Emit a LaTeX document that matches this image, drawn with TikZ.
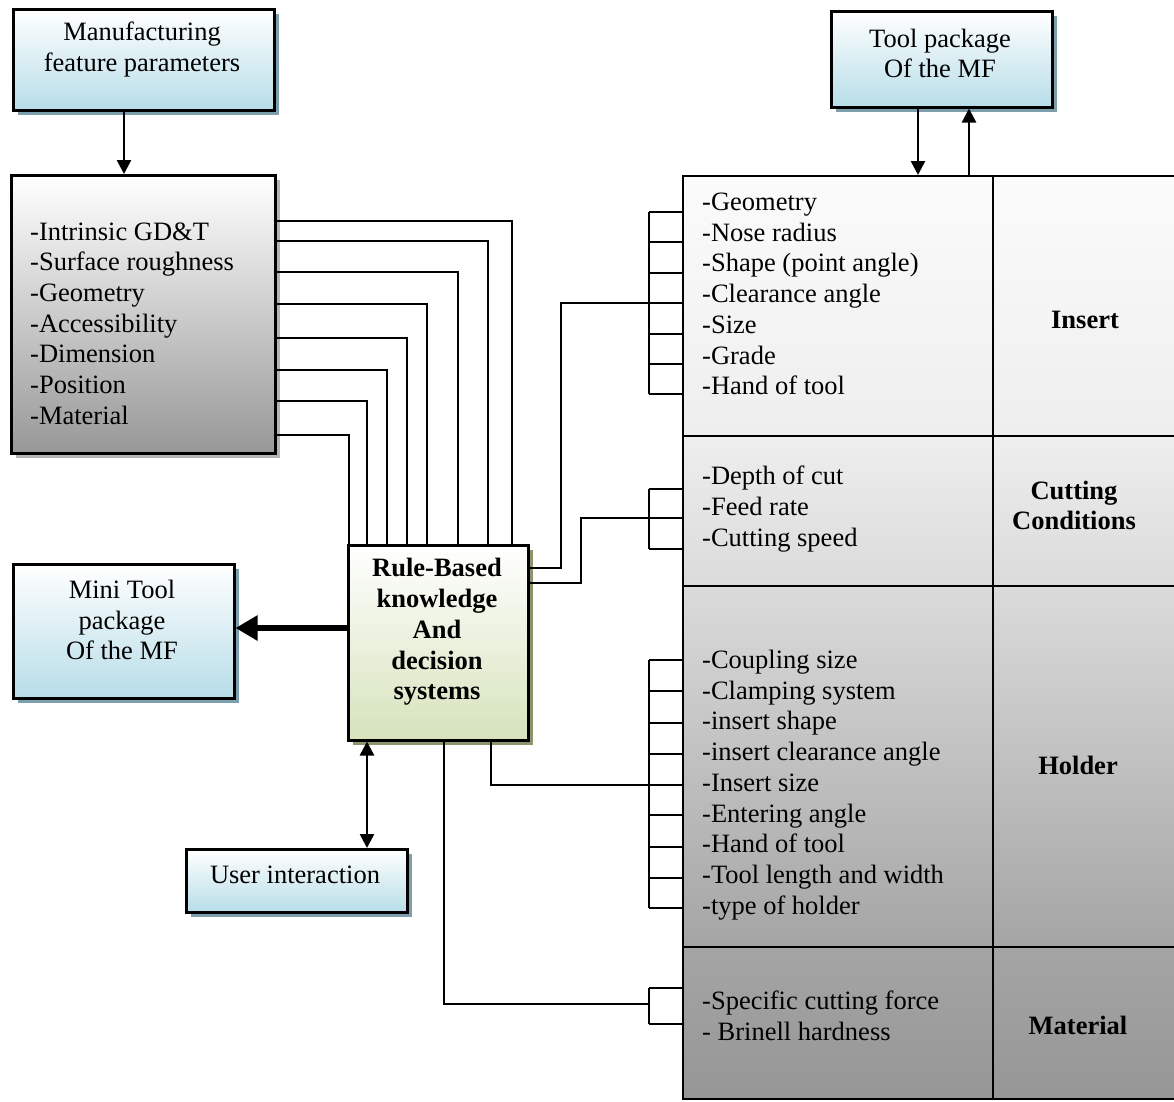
\documentclass[tikz,border=0pt]{standalone}
\usepackage{fontspec}
\setmainfont{Liberation Serif}
\usetikzlibrary{arrows.meta,shadows}

\definecolor{boxblue}{RGB}{183,221,232}
\definecolor{blueshade}{RGB}{125,158,172}
\definecolor{boxgreen}{RGB}{214,227,188}
\definecolor{greenshade}{RGB}{140,150,110}
\definecolor{boxgrey}{RGB}{152,152,152}
\definecolor{greyshade}{RGB}{180,180,180}
\definecolor{tgA}{RGB}{150,150,150}
\definecolor{tgB}{RGB}{165,165,165}
\definecolor{tgC}{RGB}{219,219,219}
\definecolor{tgD}{RGB}{238,238,238}
\definecolor{tgE}{RGB}{251,251,251}
\pgfdeclareverticalshading{tablegrad}{100bp}{color(0bp)=(tgA); color(25bp)=(tgA); color(33.25bp)=(tgB); color(52.85bp)=(tgC); color(60.9bp)=(tgD); color(75bp)=(tgE); color(100bp)=(tgE)}

\begin{document}
\begin{tikzpicture}[x=1pt,y=-1pt,
  box/.style={draw,line width=2.5pt,inner sep=0pt,anchor=north west},
  bluebox/.style={box,top color=white,bottom color=boxblue,
    drop shadow={shadow xshift=5pt,shadow yshift=-5pt,fill=blueshade,opacity=1}},
  greybox/.style={box,top color=white,bottom color=boxgrey,
    drop shadow={shadow xshift=5pt,shadow yshift=-5pt,fill=greyshade,opacity=1}},
  greenbox/.style={box,top color=white,bottom color=boxgreen,
    drop shadow={shadow xshift=5pt,shadow yshift=-5pt,fill=greenshade,opacity=1}},
  cell/.style={draw,line width=2pt,inner sep=0pt,anchor=north west},
  txt/.style={inner sep=0pt,align=center,font=\fontsize{26.5pt}{30.7pt}\selectfont},
  list/.style={inner sep=0pt,align=left,anchor=west,font=\fontsize{26.5pt}{30.7pt}\selectfont},
  head/.style={inner sep=0pt,align=center,font=\fontsize{26.5pt}{30.7pt}\selectfont\bfseries},
  wire/.style={line width=2pt},
  arr/.style={line width=2.5pt,-{Triangle[length=14pt,width=14pt]}},
  bigarr/.style={line width=6pt,-{Triangle[length=22pt,width=24pt]}}]

\useasboundingbox (0,0) rectangle (1174,1101);

% boxes on the left
\node[bluebox,minimum width=261pt,minimum height=101pt] (feat) at (12,8) {};
\node[txt] (featT) at (142,49.5) {Manufacturing\\feature parameters};
\node[greybox,minimum width=264pt,minimum height=278pt] (param) at (10,174) {};
\node[list] (paramT) at (30,323.5) {-Intrinsic GD\&T\\-Surface roughness\\-Geometry\\-Accessibility\\-Dimension\\-Position\\-Material};
\node[bluebox,minimum width=221pt,minimum height=134pt] (mini) at (12,563) {};
\node[txt] (miniT) at (122,620) {Mini Tool\\package\\Of the MF};
\node[greenbox,minimum width=180pt,minimum height=195pt] (rule) at (347,544) {};
\node[head] (ruleT) at (437,632) {Rule-Based\\knowledge\\And\\decision\\systems};
\node[bluebox,minimum width=221pt,minimum height=63pt] (user) at (185,848) {};
\node[txt] (userT) at (295,875) {User interaction};
\node[bluebox,minimum width=221pt,minimum height=96pt] (tool) at (830,10) {};
\node[txt] (toolT) at (940,53.5) {Tool package\\Of the MF};

% table on the right
\shade[shading=tablegrad] (682,175) rectangle (1184,1098);
\node[cell,minimum width=310pt,minimum height=260pt] (insL) at (682,175) {};
\node[cell,minimum width=192pt,minimum height=260pt] (insR) at (992,175) {};
\node[cell,minimum width=310pt,minimum height=150pt] (cutL) at (682,435) {};
\node[cell,minimum width=192pt,minimum height=150pt] (cutR) at (992,435) {};
\node[cell,minimum width=310pt,minimum height=361pt] (holL) at (682,585) {};
\node[cell,minimum width=192pt,minimum height=361pt] (holR) at (992,585) {};
\node[cell,minimum width=310pt,minimum height=152pt] (matL) at (682,946) {};
\node[cell,minimum width=192pt,minimum height=152pt] (matR) at (992,946) {};

\node[list] (insT) at (702,294) {-Geometry\\-Nose radius\\-Shape (point angle)\\-Clearance angle\\-Size\\-Grade\\-Hand of tool};
\node[list] (cutT) at (702,509) {-Depth of cut\\-Feed rate\\-Cutting speed};
\node[list] (holT) at (702,785) {-Coupling size\\-Clamping system\\-insert shape\\-insert clearance angle\\-Insert size\\-Entering angle\\-Hand of tool\\-Tool length and width\\-type of holder};
\node[list] (matT) at (702,1015.5) {-Specific cutting force\\- Brinell hardness};
\node[head] (insH) at (1085,320) {Insert};
\node[head] (cutH) at (1074,505.5) {Cutting\\Conditions};
\node[head] (holH) at (1078,765) {Holder};
\node[head] (matH) at (1078,1025) {Material};

% brackets
\coordinate (insB) at (649,303);
\coordinate (cutB) at (649,518);
\coordinate (holB) at (649,785);
\coordinate (matB) at (649,1004);
\draw[wire] (649,212) -- (649,394);
\foreach \y in {212,242,273,303,334,364,394}
  \draw[wire] (649,\y) -- (insL.west |- 0,\y);
\draw[wire] (649,489) -- (649,549);
\foreach \y in {489,518,549}
  \draw[wire] (649,\y) -- (cutL.west |- 0,\y);
\draw[wire] (649,660) -- (649,908);
\foreach \y in {660,691,723,754,785,815,847,878,908}
  \draw[wire] (649,\y) -- (holL.west |- 0,\y);
\draw[wire] (649,988) -- (649,1024);
\foreach \y in {988,1024}
  \draw[wire] (649,\y) -- (matL.west |- 0,\y);

% connectors
\foreach \ya/\xb in {221/512,241/488,272/458,304/427,338/407,370/387,401/367,435/349}
  \draw[wire] (param.east |- 0,\ya) -| (rule.north -| \xb,0);
\draw[wire] (rule.east |- 0,568) -- ++(31,0) |- (insB);
\draw[wire] (rule.east |- 0,583) -- ++(51,0) |- (cutB);
\draw[wire] (rule.south -| 491,0) |- (holB);
\draw[wire] (rule.south -| 444,0) |- (matB);

\draw[arr] (feat.south -| 124,0) -- (param.north -| 124,0);
\draw[arr] (tool.south -| 918,0) -- (insL.north -| 918,0);
\draw[arr] (insL.north -| 969,0) -- (tool.south -| 969,0);
\draw[bigarr] (rule.west |- 0,628) -- (mini.east |- 0,628);
\draw[arr,{Triangle[length=14pt,width=14pt]}-{Triangle[length=14pt,width=14pt]}] (rule.south -| 367,0) -- (user.north -| 367,0);

\end{tikzpicture}
\end{document}
